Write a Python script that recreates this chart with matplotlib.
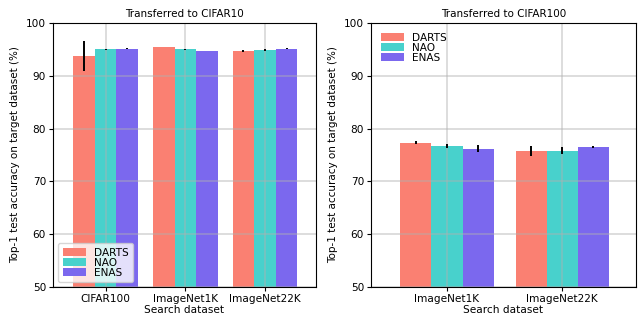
import matplotlib
matplotlib.use("Agg")
import matplotlib.pyplot as plt
import numpy as np

methods = ["DARTS", "NAO", "ENAS"]
colors = ["#fa8072", "#48d1cc", "#7b68ee"]

cats_c10 = ["CIFAR100", "ImageNet1K", "ImageNet22K"]
c10_vals = {
    "DARTS": [93.8, 95.45, 94.65],
    "NAO":   [95.0, 95.0, 94.9],
    "ENAS":  [95.1, 94.7, 95.1],
}
c10_errs = {
    "DARTS": [2.8, 0.08, 0.15],
    "NAO":   [0.1, 0.15, 0.2],
    "ENAS":  [0.08, 0.08, 0.1],
}

cats_c100 = ["ImageNet1K", "ImageNet22K"]
c100_vals = {
    "DARTS": [77.3, 75.8],
    "NAO":   [76.75, 75.8],
    "ENAS":  [76.2, 76.55],
}
c100_errs = {
    "DARTS": [0.3, 0.9],
    "NAO":   [0.4, 0.7],
    "ENAS":  [0.7, 0.2],
}

plt.rcParams['font.family'] = 'DejaVu Sans'
plt.rcParams['font.size'] = 7.6

fig = plt.figure(figsize=(6.41, 3.17), dpi=100)
ax1 = fig.add_axes([0.0827, 0.0946, 0.4103, 0.8328])
ax2 = fig.add_axes([0.5788, 0.0946, 0.4134, 0.8328])

width = 0.27

def draw(ax, cats, vals, errs, title, loc, frame):
    x = np.arange(len(cats))
    for i, m in enumerate(methods):
        ax.bar(x + (i - 1) * width, vals[m], width, color=colors[i], label=m,
               yerr=errs[m], error_kw=dict(ecolor='black', elinewidth=1.4, capsize=0))
    ax.set_xticks(x)
    ax.set_xticklabels(cats)
    ax.set_ylim(50, 100)
    ax.set_yticks([50, 60, 70, 80, 90, 100])
    ax.set_xlim(-0.66, len(cats) - 1 + 0.64)
    ax.grid(True, color='#b0b0b0', alpha=0.5, linewidth=1.2)
    ax.set_title(title, fontsize=7.5, pad=4)
    ax.set_xlabel("Search dataset", labelpad=1)
    ax.set_ylabel("Top-1 test accuracy on target dataset (%)", fontsize=7.5, labelpad=4)
    for s in ax.spines.values():
        s.set_color('black')
    ax.tick_params(colors='black', length=3.0, pad=2)
    ax.legend(loc=loc, frameon=frame, labelspacing=0.0, handlelength=2.2,
              fontsize=7.6, borderaxespad=0.5)

draw(ax1, cats_c10, c10_vals, c10_errs, "Transferred to CIFAR10", "lower left", True)
draw(ax2, cats_c100, c100_vals, c100_errs, "Transferred to CIFAR100", "upper left", False)

fig.savefig("out.png", dpi=100)
